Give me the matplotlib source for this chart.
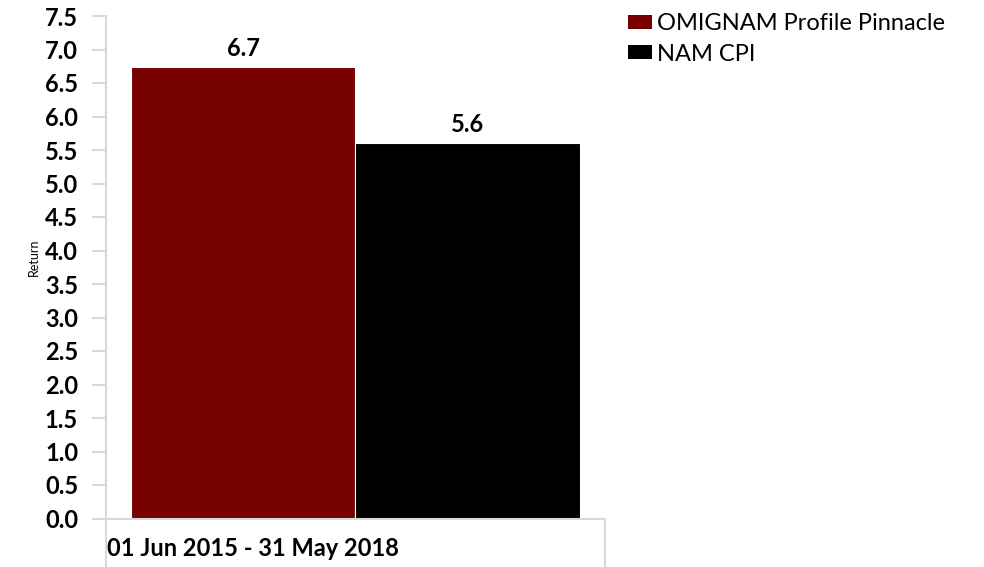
import matplotlib.pyplot as plt
from matplotlib.patches import Patch

# data
period = '01 Jun 2015 - 31 May 2018'
series = ['OMIGNAM Profile Pinnacle', 'NAM CPI']
returns = [6.74, 5.61]
shown = ['6.7', '5.6']
colors = ['#770000', '#000000']
yticks = [0.0, 0.5, 1.0, 1.5, 2.0, 2.5, 3.0, 3.5, 4.0, 4.5, 5.0, 5.5, 6.0, 6.5, 7.0, 7.5]

plt.rcParams['font.family'] = ['Lato', 'DejaVu Sans']

W, H = 984, 567
fig = plt.figure(figsize=(W / 100, H / 100), dpi=100)
ax = fig.add_axes([106 / W, 1 - 518.5 / H, (605 - 106) / W, (518.5 - 16) / H])

pos = [-0.225, 0.225]
ax.bar(pos, returns, width=0.45, color=colors, edgecolor='white', linewidth=0.8)
for x, v, s in zip(pos, returns, shown):
    ax.annotate(s, (x, v), xytext=(0, 5), textcoords='offset points',
                ha='center', va='bottom', fontsize=17, fontweight='bold')

ax.set_xlim(-0.5, 0.5)
ax.set_ylim(0, 7.5)
ax.set_yticks(yticks)
ax.set_yticklabels(['%.1f' % t for t in yticks], fontsize=17, fontweight='bold')
ax.set_xticks([-0.5, 0.5])
ax.set_xticklabels(['', ''])

grey = '#d9d9d9'
for s in ['top', 'right']:
    ax.spines[s].set_visible(False)
for s in ['left', 'bottom']:
    ax.spines[s].set_color(grey)
    ax.spines[s].set_linewidth(1.5)
ax.tick_params(axis='y', length=10, width=1.5, color=grey, pad=10)
ax.tick_params(axis='x', length=35, width=1.5, color=grey)

ax.set_ylabel('Return', fontsize=9)
ax.yaxis.set_label_coords(-0.132, 0.52)

ax.text(0.002, -0.06, period, transform=ax.transAxes, ha='left', va='center',
        fontsize=17, fontweight='bold')

handles = [Patch(facecolor=c, edgecolor='none') for c in colors]
fig.legend(handles, series, loc='upper left', bbox_to_anchor=(614 / W, 1 + 1 / H),
           frameon=False, fontsize=17, handlelength=1.02, handleheight=0.52,
           handletextpad=0.2, labelspacing=0.4, borderpad=0.1)

fig.savefig('out.png', dpi=100)
